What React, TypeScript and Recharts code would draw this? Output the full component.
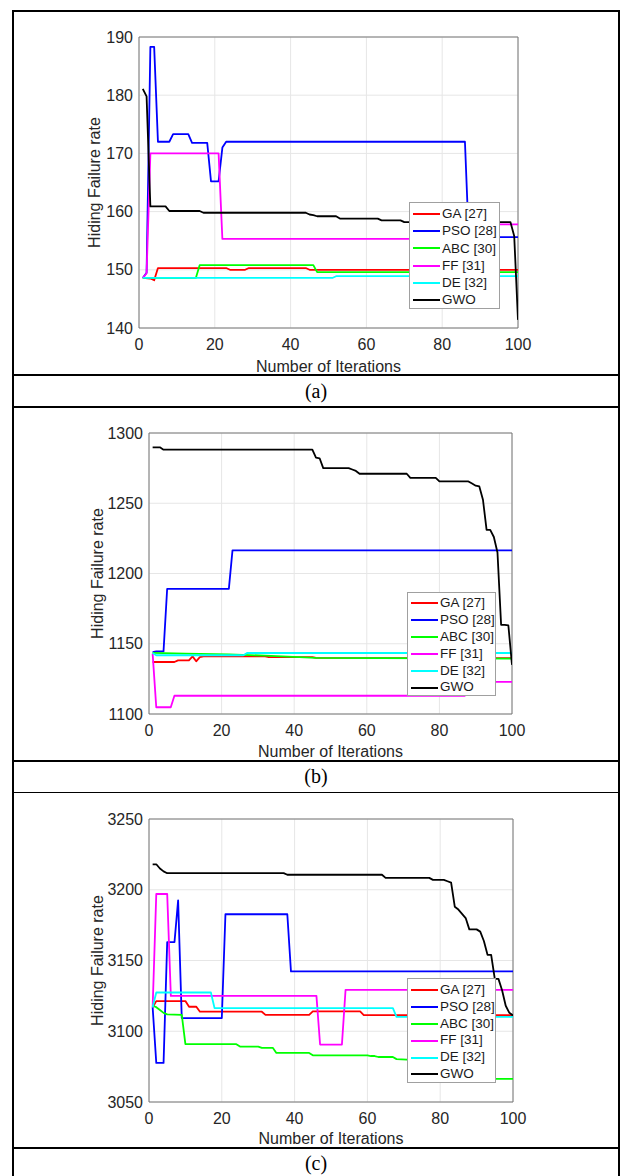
import React from 'react';
import { LineChart, Line, XAxis, YAxis, CartesianGrid, ReferenceArea, Legend } from 'recharts';

type Pt = [number, number];

const seriesNames = ['GA [27]', 'PSO [28]', 'ABC [30]', 'FF [31]', 'DE [32]', 'GWO'];
const seriesColors = ['#ff0000', '#0000ff', '#00ff00', '#ff00ff', '#00ffff', '#000000'];
const xTicks = [0, 20, 40, 60, 80, 100];

// (a) - [iteration, value] breakpoints
const aTicks = [140, 150, 160, 170, 180, 190];
const aGA: Pt[] = [[1, 148.6], [3, 148.5], [4, 148.2], [5, 150.3], [23, 150.3], [24, 150.0], [28, 150.0], [29, 150.3], [44, 150.3], [45, 150.0], [100, 150.0]];
const aPSO: Pt[] = [[1, 148.6], [2, 149.5], [3, 188.3], [4, 188.3], [5, 172], [8, 172], [9, 173.3], [13, 173.3], [14, 171.8], [18, 171.8], [19, 165.2], [21, 165.2], [22, 171], [23, 172], [86, 172], [87, 155.6], [100, 155.6]];
const aABC: Pt[] = [[1, 148.6], [15, 148.6], [16, 150.8], [46, 150.8], [47, 149.6], [100, 149.6]];
const aFF: Pt[] = [[1, 148.6], [2, 149.4], [3, 170], [21, 170], [22, 155.3], [88, 155.3], [89, 157.8], [100, 157.8]];
const aDE: Pt[] = [[1, 148.6], [51, 148.6], [52, 148.9], [100, 148.9]];
const aGWO: Pt[] = [[1, 181.1], [2, 179.8], [3, 160.9], [7, 160.9], [8, 160.1], [16, 160.1], [17, 159.8], [44, 159.8], [45, 159.5], [46, 159.4], [47, 159.2], [52, 159.2], [53, 158.8], [63, 158.8], [64, 158.5], [69, 158.5], [70, 158.2], [98, 158.2], [99, 155.8], [100, 141.4]];

// (b)
const bTicks = [1100, 1150, 1200, 1250, 1300];
const bGA: Pt[] = [[1, 1137], [7, 1137], [8, 1138.2], [11, 1138.2], [12, 1141], [13, 1137.5], [14, 1140.5], [15, 1141], [32, 1141], [33, 1140.5], [45, 1140.5], [46, 1140], [100, 1139.8]];
const bPSO: Pt[] = [[1, 1144], [2, 1144.6], [4, 1144.6], [5, 1189], [22, 1189], [23, 1216.5], [100, 1216.5]];
const bABC: Pt[] = [[1, 1143.5], [10, 1143], [22, 1142.5], [32, 1141.5], [46, 1140], [100, 1139.4]];
const bFF: Pt[] = [[1, 1143], [2, 1104.8], [6, 1104.8], [7, 1113], [87, 1113], [88, 1122.8], [100, 1122.8]];
const bDE: Pt[] = [[1, 1143.5], [2, 1141.8], [26, 1141.8], [27, 1143.4], [100, 1143.4]];
const bGWO: Pt[] = [[1, 1289.8], [3, 1289.8], [4, 1288.1], [45, 1288.1], [46, 1282.5], [47, 1282], [48, 1275], [55, 1275], [56, 1274], [57, 1273], [58, 1271], [71, 1271], [72, 1268], [79, 1268], [80, 1265.5], [88, 1265.5], [89, 1264], [90, 1262.5], [91, 1262], [92, 1252.5], [93, 1231], [94, 1231], [95, 1226], [96, 1215], [97, 1163.5], [98, 1163.5], [99, 1163], [100, 1135]];

// (c)
const cTicks = [3050, 3100, 3150, 3200, 3250];
const cGA: Pt[] = [[1, 3117], [2, 3121.3], [10, 3121.3], [11, 3117.3], [13, 3117.3], [14, 3113.8], [31, 3113.8], [32, 3111.6], [44, 3111.6], [45, 3114], [58, 3114], [59, 3111.4], [100, 3111.4]];
const cPSO: Pt[] = [[1, 3117], [2, 3077.6], [4, 3077.6], [5, 3163], [7, 3163], [8, 3192.5], [9, 3109.3], [20, 3109.3], [21, 3182.7], [38, 3182.7], [39, 3142.3], [100, 3142.3]];
const cABC: Pt[] = [[1, 3118], [2, 3117], [3, 3115], [4, 3113], [5, 3111.9], [9, 3111.6], [10, 3090.9], [24, 3090.9], [25, 3089.2], [30, 3089.2], [31, 3088.3], [34, 3088.3], [35, 3084.7], [44, 3084.7], [45, 3083], [60, 3083], [61, 3082.5], [62, 3082.5], [63, 3081.8], [67, 3081.8], [68, 3080.3], [78, 3079], [85, 3075], [90, 3071], [95, 3066.3], [100, 3066.3]];
const cFF: Pt[] = [[1, 3117], [2, 3197], [5, 3197], [6, 3125], [46, 3125], [47, 3090.6], [53, 3090.6], [54, 3129.3], [100, 3129.3]];
const cDE: Pt[] = [[1, 3117], [2, 3127.4], [17, 3127.4], [18, 3116.4], [67, 3116.4], [68, 3110.2], [100, 3110.2]];
const cGWO: Pt[] = [[1, 3218], [2, 3218], [3, 3215], [4, 3213], [5, 3211.7], [37, 3211.7], [38, 3210.6], [64, 3210.6], [65, 3208.4], [77, 3208.4], [78, 3207], [81, 3207], [82, 3206], [83, 3205], [84, 3188], [85, 3186], [86, 3183], [87, 3180], [88, 3172], [90, 3172], [91, 3170.4], [92, 3163.8], [93, 3154], [94, 3154], [95, 3137], [96, 3137], [97, 3129], [98, 3118], [99, 3113], [100, 3111.2]];

const FONT = '"Liberation Sans", Arial, Helvetica, sans-serif';
const SERIF = '"Liberation Serif", "Times New Roman", serif';
const W = 630;

const toData = (pts: Pt[]) => pts.map(([x, y]) => ({ x, y }));

interface PanelProps {
    series: Pt[][];
    yTicks: number[];
    plotTop: number;
    plotBottom: number;
    plotLeft: number;
    plotRight: number;
    yLabelX: number;
    xLabelDy: number;
    legend: { left: number; top: number; width: number; height: number; row: number; pad: number };
}

const Panel: React.FC<PanelProps> = ({ series, yTicks, plotTop, plotBottom, plotLeft, plotRight, yLabelX, xLabelDy, legend }) => {
    const chartTop = plotTop - 20;
    const height = plotBottom - plotTop + 20 + 50;
    // vertical centre of the plot, in the chart's own coordinates
    const cy = (plotTop + plotBottom) / 2 - chartTop;

    const renderLegend = () => (
        <div style={{
            width: legend.width, height: legend.height, boxSizing: 'border-box',
            border: '1px solid #a0a0a0', background: '#fff', paddingTop: legend.pad, fontFamily: FONT
        }}>
            {seriesNames.map((n, i) => (
                <div key={n} style={{ display: 'flex', alignItems: 'center', height: legend.row }}>
                    <div style={{ width: 27, height: 2, background: seriesColors[i], marginLeft: 3, marginRight: 2 }} />
                    <span style={{ fontSize: 13.5, color: '#1a1a1a', lineHeight: `${legend.row}px`, whiteSpace: 'nowrap' }}>{n}</span>
                </div>
            ))}
        </div>
    );

    return (
        <div style={{ position: 'absolute', left: 0, top: chartTop, width: W, height }}>
            <LineChart width={W} height={height} margin={{ top: 20, right: W - plotRight, bottom: 0, left: 0 }}>
                <CartesianGrid stroke="#e6e6e6" strokeWidth={1} />
                <XAxis
                    type="number"
                    dataKey="x"
                    domain={[0, 100]}
                    ticks={xTicks}
                    allowDataOverflow
                    height={50}
                    axisLine={false}
                    tickLine={false}
                    tickSize={0}
                    tickMargin={11}
                    tick={{ fontSize: 16, fill: '#262626', fontFamily: FONT }}
                    label={{
                        content: (p: any) => (
                            <text
                                x={p.viewBox.x + p.viewBox.width / 2}
                                y={p.viewBox.y + xLabelDy}
                                textAnchor="middle"
                                fontSize={16}
                                fill="#262626"
                                fontFamily={FONT}
                            >
                                Number of Iterations
                            </text>
                        )
                    }}
                />
                <YAxis
                    type="number"
                    domain={[yTicks[0], yTicks[yTicks.length - 1]]}
                    ticks={yTicks}
                    allowDataOverflow
                    width={plotLeft}
                    axisLine={false}
                    tickLine={false}
                    tickSize={0}
                    tickMargin={6}
                    tick={{ fontSize: 16, fill: '#262626', fontFamily: FONT }}
                    label={{
                        content: () => (
                            <text
                                x={yLabelX}
                                y={cy}
                                transform={`rotate(-90 ${yLabelX} ${cy})`}
                                textAnchor="middle"
                                fontSize={16}
                                fill="#262626"
                                fontFamily={FONT}
                            >
                                Hiding Failure rate
                            </text>
                        )
                    }}
                />
                <ReferenceArea
                    x1={0}
                    x2={100}
                    y1={yTicks[0]}
                    y2={yTicks[yTicks.length - 1]}
                    fill="none"
                    stroke="#777777"
                    strokeWidth={1}
                />
                {series.map((pts, i) => (
                    <Line
                        key={seriesNames[i]}
                        name={seriesNames[i]}
                        data={toData(pts)}
                        dataKey="y"
                        type="linear"
                        stroke={seriesColors[i]}
                        strokeWidth={1.8}
                        strokeLinejoin="round"
                        dot={false}
                        activeDot={false}
                        isAnimationActive={false}
                    />
                ))}
                <Legend
                    layout="vertical"
                    align="center"
                    verticalAlign="middle"
                    content={renderLegend}
                    wrapperStyle={{ left: legend.left, top: legend.top - chartTop, width: legend.width, height: legend.height }}
                />
            </LineChart>
        </div>
    );
};

const hLine = (top: number, h: number) => (
    <div key={`h${top}`} style={{ position: 'absolute', left: 12, top, width: 608, height: h, background: '#000' }} />
);

const Caption: React.FC<{ text: string; cy: number }> = ({ text, cy }) => (
    <div style={{
        position: 'absolute', left: 12, width: 608, top: cy - 12, height: 24, lineHeight: '24px',
        textAlign: 'center', fontFamily: SERIF, fontSize: 20, color: '#000'
    }}>
        {text}
    </div>
);

export default function App() {
    return (
        <div style={{ position: 'absolute', left: 0, top: 0, width: W, height: 1176, background: '#fff', overflow: 'hidden' }}>
            <Panel
                series={[aGA, aPSO, aABC, aFF, aDE, aGWO]}
                yTicks={aTicks}
                plotTop={37}
                plotBottom={328}
                plotLeft={139}
                plotRight={518}
                yLabelX={100}
                xLabelDy={44}
                legend={{ left: 409, top: 202, width: 91, height: 107, row: 17.3, pad: 2 }}
            />
            <Panel
                series={[bGA, bPSO, bABC, bFF, bDE, bGWO]}
                yTicks={bTicks}
                plotTop={433}
                plotBottom={714}
                plotLeft={149}
                plotRight={512}
                yLabelX={103}
                xLabelDy={43}
                legend={{ left: 407, top: 592, width: 89, height: 104, row: 16.9, pad: 2 }}
            />
            <Panel
                series={[cGA, cPSO, cABC, cFF, cDE, cGWO]}
                yTicks={cTicks}
                plotTop={819}
                plotBottom={1102}
                plotLeft={149}
                plotRight={513}
                yLabelX={103}
                xLabelDy={42}
                legend={{ left: 407, top: 978, width: 89, height: 105, row: 16.8, pad: 3 }}
            />
            {/* table borders */}
            <div style={{ position: 'absolute', left: 12, top: 10, width: 2, height: 1166, background: '#000' }} />
            <div style={{ position: 'absolute', left: 618, top: 10, width: 2, height: 1166, background: '#000' }} />
            {hLine(10, 2)}
            {hLine(374, 1.5)}
            {hLine(406, 1.5)}
            {hLine(760, 2)}
            {hLine(791.5, 1.5)}
            {hLine(1146.5, 2)}
            <Caption text="(a)" cy={391} />
            <Caption text="(b)" cy={776} />
            <Caption text="(c)" cy={1163} />
        </div>
    );
}
